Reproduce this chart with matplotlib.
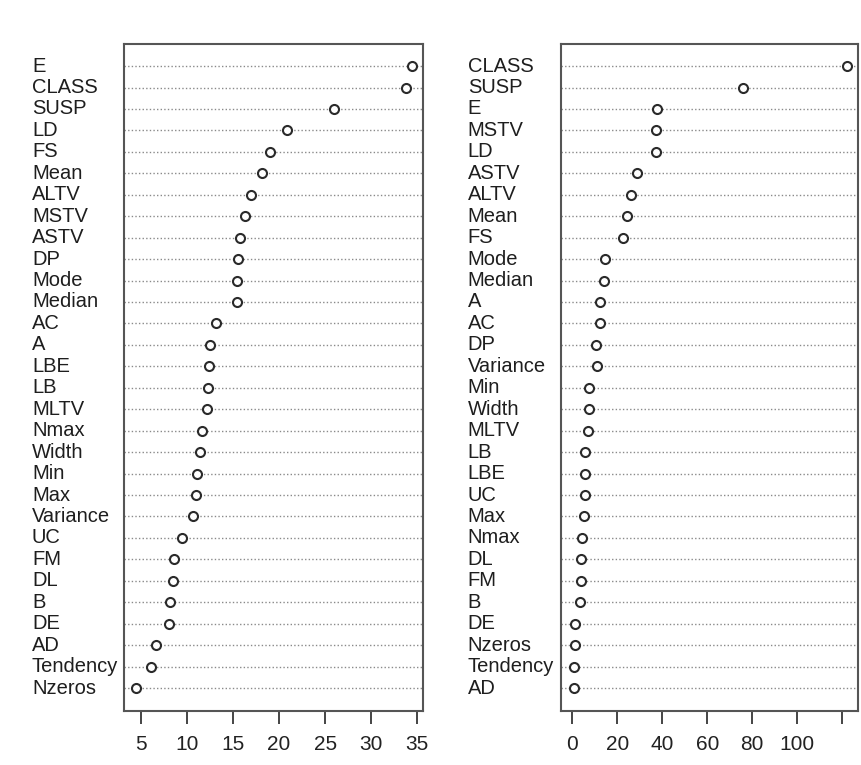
import matplotlib.pyplot as plt
from matplotlib.transforms import blended_transform_factory

plt.rcParams['font.family'] = ['Liberation Sans', 'DejaVu Sans']

# left panel (top to bottom)
left_names = ['E', 'CLASS', 'SUSP', 'LD', 'FS', 'Mean', 'ALTV', 'MSTV', 'ASTV', 'DP',
              'Mode', 'Median', 'AC', 'A', 'LBE', 'LB', 'MLTV', 'Nmax', 'Width', 'Min',
              'Max', 'Variance', 'UC', 'FM', 'DL', 'B', 'DE', 'AD', 'Tendency', 'Nzeros']
left_vals = [34.4, 33.8, 26.0, 20.9, 19.0, 18.1, 16.9, 16.3, 15.7, 15.5,
             15.4, 15.4, 13.1, 12.5, 12.4, 12.3, 12.2, 11.6, 11.4, 11.1,
             11.0, 10.6, 9.5, 8.6, 8.5, 8.1, 8.0, 6.6, 6.1, 4.4]
left_ticks = [5, 10, 15, 20, 25, 30, 35]
left_ticklabels = ['5', '10', '15', '20', '25', '30', '35']

# right panel (top to bottom)
right_names = ['CLASS', 'SUSP', 'E', 'MSTV', 'LD', 'ASTV', 'ALTV', 'Mean', 'FS', 'Mode',
               'Median', 'A', 'AC', 'DP', 'Variance', 'Min', 'Width', 'MLTV', 'LB', 'LBE',
               'UC', 'Max', 'Nmax', 'DL', 'FM', 'B', 'DE', 'Nzeros', 'Tendency', 'AD']
right_vals = [122.1, 75.7, 37.6, 37.2, 37.2, 28.6, 26.2, 24.2, 22.4, 14.4,
              14.0, 12.3, 12.3, 10.7, 10.8, 7.6, 7.6, 7.0, 5.8, 5.8,
              5.8, 5.2, 4.2, 3.7, 3.7, 3.3, 1.3, 1.3, 0.9, 0.9]
right_ticks = [0, 20, 40, 60, 80, 100, 120]
right_ticklabels = ['0', '20', '40', '60', '80', '100', '']

fig = plt.figure(figsize=(8.62, 7.65), dpi=100)
ax1 = fig.add_axes([0.1439, 0.0706, 0.3469, 0.8719])
ax2 = fig.add_axes([0.6508, 0.0706, 0.3445, 0.8719])


def dotchart(ax, names, vals, xlim, ticks, ticklabels, label_x):
    n = len(names)
    ys = list(range(n, 0, -1))
    for y in ys:
        ax.axhline(y, color='#8a8a8a', lw=1.0, ls=(0, (1, 1.6)), zorder=1)
    ax.plot(vals, ys, 'o', mfc='white', mec='#2a2a2a', mew=1.5, ms=6.5,
            ls='none', zorder=3)
    ax.set_xlim(*xlim)
    ax.set_ylim(-0.07, n + 1.03)
    ax.set_yticks([])
    ax.set_xticks(ticks)
    ax.set_xticklabels(ticklabels)
    ax.tick_params(axis='x', direction='out', length=9, width=1.4,
                   color='#444444', labelsize=15, labelcolor='#222222', pad=8)
    for s in ax.spines.values():
        s.set_color('#555555')
        s.set_linewidth(1.5)
    tr = blended_transform_factory(fig.transFigure, ax.transData)
    for name, y in zip(names, ys):
        ax.text(label_x, y, name, transform=tr, ha='left', va='center',
                fontsize=14.5, color='#1e1e1e')


dotchart(ax1, left_names, left_vals, (3.15, 35.65), left_ticks, left_ticklabels, 0.0371)
dotchart(ax2, right_names, right_vals, (-5.0, 127.0), right_ticks, right_ticklabels, 0.5426)

plt.savefig('out.png', dpi=100)
